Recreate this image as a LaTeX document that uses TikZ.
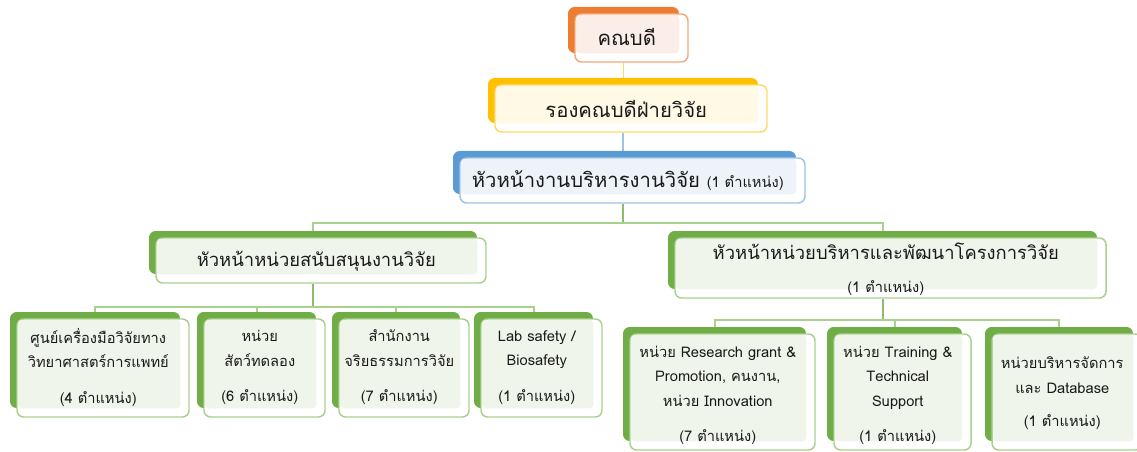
\documentclass[tikz,border=0pt]{standalone}
\usepackage{fontspec}
\setmainfont[Script=Thai]{Loma}
\usetikzlibrary{backgrounds,calc}
\definecolor{orgdk}{HTML}{ED7D31}\definecolor{orgbd}{HTML}{F4A878}\definecolor{orgtn}{HTML}{FBEEE8}
\definecolor{yeldk}{HTML}{FFC000}\definecolor{yelbd}{HTML}{FFD966}\definecolor{yeltn}{HTML}{FFF9E6}
\definecolor{bludk}{HTML}{5B9BD5}\definecolor{blubd}{HTML}{9DC3E6}\definecolor{blutn}{HTML}{EEF3FA}
\definecolor{grndk}{HTML}{70AD47}\definecolor{grnbd}{HTML}{A9D18E}\definecolor{grntn}{HTML}{F0F5EC}
\definecolor{txt}{HTML}{1A1A1A}
\tikzset{
  darkbox/.style={fill=#1dk, draw=none, rounded corners=5pt, inner sep=0pt},
  lightbox/.style={fill=white, draw=#1bd, line width=1.1pt, rounded corners=5pt, inner sep=0pt},
  tintbox/.style={fill=#1tn, rounded corners=3pt},
  boxtext/.style={align=center, text=txt, inner sep=0pt},
  lnO/.style={draw=yelbd, line width=1.3pt},
  lnB/.style={draw=blubd, line width=1.3pt},
  lnG/.style={draw=grndk!80, line width=1.5pt},
  lnL/.style={draw=grnbd, line width=1.5pt},
}
% #1 name, #2 x0, #3 y0, #4 x1, #5 y1 (dark rectangle, px), #6 theme, #7 font, #8 text shift (px), #9 text
\newcommand\orgbox[9]{%
  \pgfmathsetmacro\obw{(#4-#2)*0.75}\pgfmathsetmacro\obh{(#5-#3)*0.75}%
  \node[darkbox=#6, minimum width=\obw pt, minimum height=\obh pt] (#1) at ({(#2+#4)/2},{(#3+#5)/2}) {};
  \pgfmathsetmacro\olw{(#4-#2+2)*0.75}\pgfmathsetmacro\olh{(#5-#3+2)*0.75}%
  \node[lightbox=#6, minimum width=\olw pt, minimum height=\olh pt] (#1-l) at ({(#2+#4)/2+8},{(#3+#5)/2+8}) {};
  \fill[tintbox=#6] ($(#1-l.north west)+(1.5,1.5)$) rectangle (#1.south east);
  \node[boxtext, font=#7] (#1-t) at ($(#1-l.north west)!.5!(#1.south east)+(0,#8)$) {#9};
}
\newcommand\fBig{\fontsize{15.2}{20}\selectfont}
\newcommand\fMed{\fontsize{13.8}{18}\selectfont}
\newcommand\fBox{\fontsize{11}{18.5}\selectfont}
\newcommand\fSml{\fontsize{11}{14}\selectfont}
\begin{document}
\begin{tikzpicture}[x=0.75pt,y=-0.75pt]
\useasboundingbox (0,0) rectangle (1137,452);
\orgbox{dean}{568}{7}{679}{53}{org}{\fBig}{4}{คณบดี}
\orgbox{vice}{488}{78}{758}{123}{yel}{\fBig}{5}{รองคณบดีฝ่ายวิจัย}
\orgbox{head}{453}{151}{796}{194}{blu}{\fBig}{5}{หัวหน้างานบริหารงานวิจัย {\fSml (1 ตำแหน่ง)}}
\orgbox{sup}{149}{231}{477}{274}{grn}{\fMed}{5}{หัวหน้าหน่วยสนับสนุนงานวิจัย}
\orgbox{dev}{668}{231}{1097}{289}{grn}{\fMed}{6}{หัวหน้าหน่วยบริหารและพัฒนาโครงการวิจัย\\[7pt] {\fSml (1 ตำแหน่ง)}}
\orgbox{c1}{10}{312}{180}{408}{grn}{\fBox}{4}{ศูนย์เครื่องมือวิจัยทาง\\ วิทยาศาสตร์การแพทย์\\[8pt] (4 ตำแหน่ง)}
\orgbox{c2}{197}{312}{316}{408}{grn}{\fBox}{4}{หน่วย\\ สัตว์ทดลอง\\[8pt] (6 ตำแหน่ง)}
\orgbox{c3}{332}{312}{460}{408}{grn}{\fBox}{4}{สำนักงาน\\ จริยธรรมการวิจัย\\[8pt] (7 ตำแหน่ง)}
\orgbox{c4}{474}{312}{593}{408}{grn}{\fBox}{4}{Lab safety /\\ Biosafety\\[8pt] (1 ตำแหน่ง)}
\orgbox{r1}{623}{327}{806}{441}{grn}{\fBox}{8}{หน่วย Research grant \&\\ Promotion, คนงาน,\\ หน่วย Innovation\\[8pt] (7 ตำแหน่ง)}
\orgbox{r2}{827}{327}{962}{441}{grn}{\fBox}{8}{หน่วย Training \&\\ Technical\\ Support\\[8pt] (1 ตำแหน่ง)}
\orgbox{r3}{985}{327}{1133}{441}{grn}{\fBox}{6}{หน่วยบริหารจัดการ\\ และ Database\\[6pt] (1 ตำแหน่ง)}
\begin{scope}[on background layer]
  \draw[lnO] (dean |- dean-l.south) -- (dean |- vice.north);
  \draw[lnB] (vice |- vice-l.south) -- (vice |- head.north);
  \coordinate (hub) at ($(vice |- head-l.south)+(0,19)$);
  \draw[lnG] (vice |- head-l.south) -- (hub);
  \draw[lnL] (sup.north) |- (hub) -| (dev.north);
  \coordinate (hubL) at ($(sup |- sup-l.south)+(0,23)$);
  \draw[lnG] (sup |- sup-l.south) -- (hubL);
  \draw[lnL] (c1.north) |- (hubL) -| (c4.north);
  \draw[lnL] (c2.north) -- (c2 |- hubL);
  \draw[lnL] (c3.north) -- (c3 |- hubL);
  \coordinate (hubR) at ($(dev |- dev-l.south)+(0,21)$);
  \draw[lnG] (dev |- dev-l.south) -- (hubR);
  \draw[lnL] (r1.north) |- (hubR) -| (r3.north);
  \draw[lnL] (r2.north) -- (r2 |- hubR);
\end{scope}
\end{tikzpicture}
\end{document}
